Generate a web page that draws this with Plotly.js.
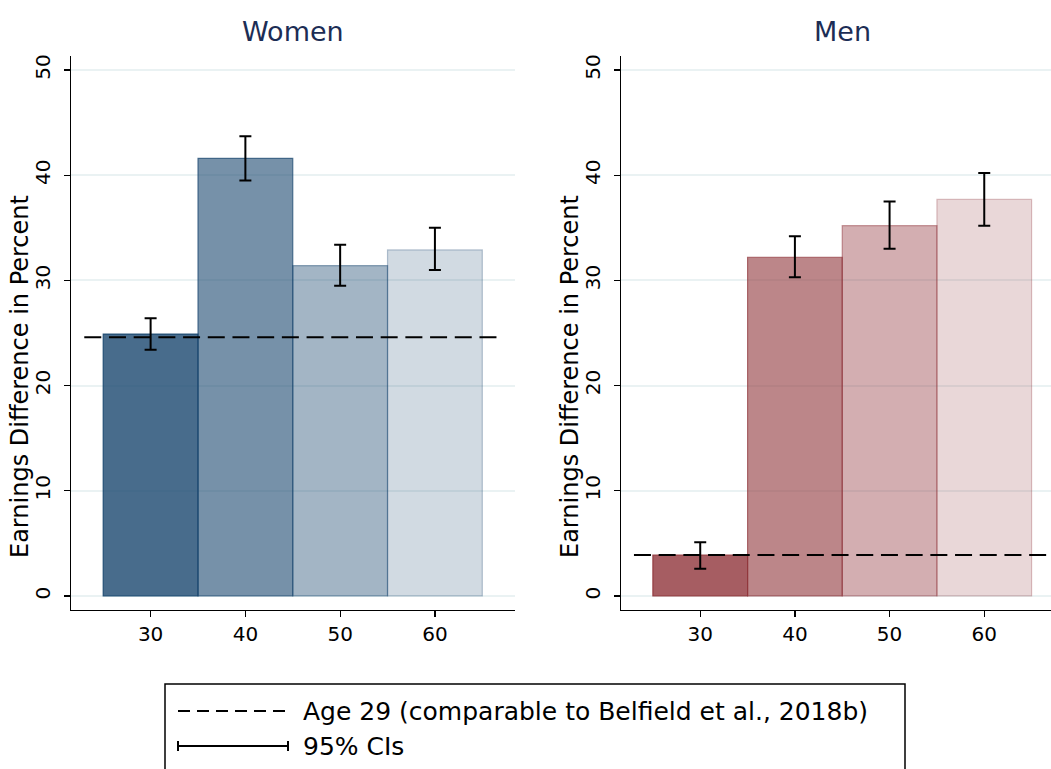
<!DOCTYPE html>
<html>
<head>
<meta charset="utf-8">
<script src="https://cdn.plot.ly/plotly-3.0.1.min.js"></script>
<style>
  html, body { margin: 0; padding: 0; background: #fff; }
  #chart { width: 1051px; height: 769px; }
</style>
</head>
<body>
<div id="chart"></div>
<script>
// ---------------- data ----------------
const ages = [30, 40, 50, 60];
const ageTickLabels = ['30', '40', '50', '60'];
const yTickVals = [0, 10, 20, 30, 40, 50];

const womenValues = [24.9, 41.6, 31.4, 32.9];
const womenLow    = [23.4, 39.5, 29.5, 31.0];
const womenHigh   = [26.4, 43.7, 33.4, 35.0];
const womenAge29  = 24.6;

const menValues = [3.9, 32.2, 35.2, 37.7];
const menLow    = [2.6, 30.3, 33.0, 35.2];
const menHigh   = [5.1, 34.2, 37.5, 40.2];
const menAge29  = 3.9;

const refLineX = [23, 67];
const barOpacities = [0.8, 0.6, 0.4, 0.2];

const panelTitles = ['Women', 'Men'];
const yTitle = 'Earnings Difference in Percent';
const legendLabels = ['Age 29 (comparable to Belfield et al., 2018b)', '95% CIs'];

// ---------------- styles ----------------
const FONT = 'DejaVu Sans, Liberation Sans, Arial, sans-serif';
const navy = [26, 71, 111];
const maroon = [144, 53, 59];
const rgba = (c, a) => `rgba(${c[0]},${c[1]},${c[2]},${a})`;

function barTrace(vals, lo, hi, base, xa, ya) {
  return {
    type: 'bar',
    x: ages,
    y: vals,
    width: ages.map(() => 10),
    xaxis: xa, yaxis: ya,
    marker: {
      color: barOpacities.map(a => rgba(base, a)),
      line: { color: barOpacities.map(a => rgba(base, Math.min(1, a + 0.1))), width: 1.2 }
    },
    error_y: {
      type: 'data', symmetric: false,
      array: hi.map((h, i) => h - vals[i]),
      arrayminus: lo.map((l, i) => vals[i] - l),
      color: '#000', thickness: 2, width: 6
    },
    showlegend: false, hoverinfo: 'skip'
  };
}

function refTrace(v, xa, ya) {
  return {
    type: 'scatter', mode: 'lines',
    x: refLineX, y: refLineX.map(() => v),
    xaxis: xa, yaxis: ya,
    line: { color: '#000', width: 2, dash: '17px,7.7px' },
    showlegend: false, hoverinfo: 'skip'
  };
}

const data = [
  barTrace(womenValues, womenLow, womenHigh, navy, 'x', 'y'),
  refTrace(womenAge29, 'x', 'y'),
  barTrace(menValues, menLow, menHigh, maroon, 'x2', 'y2'),
  refTrace(menAge29, 'x2', 'y2')
];

const W = 1051, H = 769;
const px = v => v / W;
const py = v => (H - v) / H;

const yAxisCommon = {
  range: [-1.33, 51.33],
  domain: [py(610), py(56)],
  tickvals: yTickVals,
  ticktext: yTickVals.map(String),
  tickangle: -90,
  ticks: 'outside', ticklen: 6, tickwidth: 1.2, tickcolor: '#000',
  ticklabelstandoff: 6,
  showgrid: true, gridcolor: '#eaf2f3', gridwidth: 2,
  zeroline: false,
  showline: true, linecolor: '#000', linewidth: 1.2,
  tickfont: { family: FONT, size: 20, color: '#000' },
  fixedrange: true
};
const xAxisCommon = {
  tickvals: ages, ticktext: ageTickLabels,
  ticks: 'outside', ticklen: 6, tickwidth: 1.2, tickcolor: '#000',
  showgrid: false, zeroline: false,
  showline: true, linecolor: '#000', linewidth: 1.2,
  tickfont: { family: FONT, size: 20, color: '#000' },
  fixedrange: true
};

const titleFont = { family: FONT, size: 27, color: '#1c2d55' };
const labFont = { family: FONT, size: 24, color: '#000' };
const legFont = { family: FONT, size: 25, color: '#000' };

const layout = {
  width: W, height: H,
  margin: { l: 0, r: 0, t: 0, b: 0 },
  paper_bgcolor: '#fff', plot_bgcolor: '#fff',
  showlegend: false,
  xaxis: Object.assign({}, xAxisCommon, { domain: [px(71), px(515)], range: [21.6, 68.45], anchor: 'y' }),
  xaxis2: Object.assign({}, xAxisCommon, { domain: [px(620.7), 1], range: [21.6, 67.05], anchor: 'y2' }),
  yaxis: Object.assign({}, yAxisCommon, { anchor: 'x' }),
  yaxis2: Object.assign({}, yAxisCommon, { anchor: 'x2' }),
  annotations: [
    { text: panelTitles[0], xref: 'x', yref: 'paper', x: 45, y: py(32), xanchor: 'center', yanchor: 'middle', showarrow: false, font: titleFont },
    { text: panelTitles[1], xref: 'x2', yref: 'paper', x: 45, y: py(32), xanchor: 'center', yanchor: 'middle', showarrow: false, font: titleFont },
    { text: yTitle, xref: 'paper', yref: 'paper', x: px(20), y: py(377), textangle: -90, xanchor: 'center', yanchor: 'middle', showarrow: false, font: labFont },
    { text: yTitle, xref: 'paper', yref: 'paper', x: px(570), y: py(377), textangle: -90, xanchor: 'center', yanchor: 'middle', showarrow: false, font: labFont },
    { text: legendLabels[0], xref: 'paper', yref: 'paper', x: px(301), y: py(711), xanchor: 'left', yanchor: 'middle', showarrow: false, font: legFont },
    { text: legendLabels[1], xref: 'paper', yref: 'paper', x: px(301), y: py(746), xanchor: 'left', yanchor: 'middle', showarrow: false, font: legFont }
  ],
  shapes: [
    // legend box (cut by the page bottom)
    { type: 'rect', xref: 'paper', yref: 'paper', x0: px(165), x1: px(905), y0: py(800), y1: py(684), line: { color: '#000', width: 1.5 }, fillcolor: 'rgba(0,0,0,0)' },
    // legend sample: dashed line
    { type: 'line', xref: 'paper', yref: 'paper', x0: px(178), x1: px(288), y0: py(711), y1: py(711), line: { color: '#000', width: 2, dash: '12px,7px' } },
    // legend sample: CI bar
    { type: 'line', xref: 'paper', yref: 'paper', x0: px(178), x1: px(288), y0: py(746), y1: py(746), line: { color: '#000', width: 2 } },
    { type: 'line', xref: 'paper', yref: 'paper', x0: px(178), x1: px(178), y0: py(741), y1: py(751), line: { color: '#000', width: 2 } },
    { type: 'line', xref: 'paper', yref: 'paper', x0: px(288), x1: px(288), y0: py(741), y1: py(751), line: { color: '#000', width: 2 } }
  ]
};

Plotly.newPlot('chart', data, layout, { staticPlot: true, displayModeBar: false });
</script>
</body>
</html>
